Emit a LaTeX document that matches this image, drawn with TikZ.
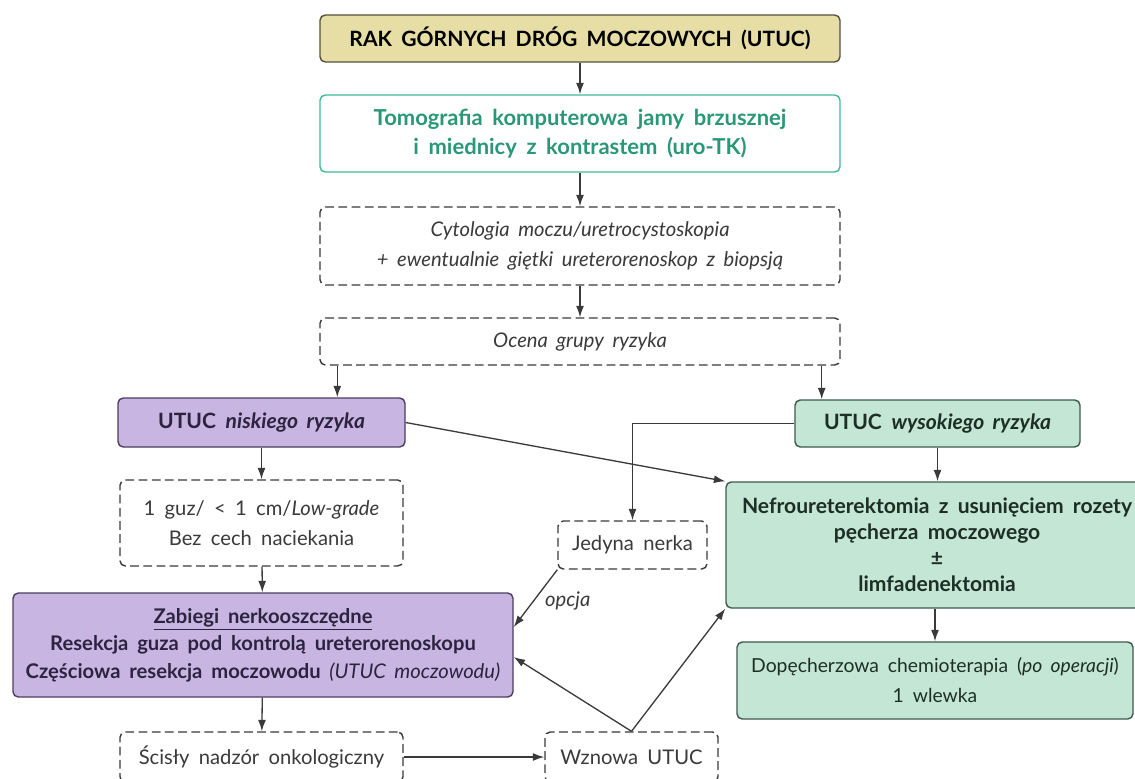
\documentclass[tikz,border=0pt]{standalone}
\usepackage{fontspec}
\setmainfont{Lato}[WordSpace=1.8]
\usetikzlibrary{arrows.meta}

\definecolor{khaki}{HTML}{E6DEA4}
\definecolor{khakiline}{HTML}{55503E}
\definecolor{teal}{HTML}{3DBB9A}
\definecolor{tealtext}{HTML}{2A9878}
\definecolor{lilac}{HTML}{C9B5E2}
\definecolor{lilacline}{HTML}{4B3E5E}
\definecolor{lilactext}{HTML}{2C2340}
\definecolor{mint}{HTML}{C3E7D4}
\definecolor{mintline}{HTML}{3E5A4D}
\definecolor{minttext}{HTML}{1E2E27}
\definecolor{linegray}{HTML}{3A3A3A}

\begin{document}
\begin{tikzpicture}[x=0.02cm, y=-0.02cm,
    boxsize/.style 2 args={minimum width=#1*0.02cm, minimum height=#2*0.02cm},
    box/.style={rounded corners=3pt, line width=0.8pt, align=center, inner sep=0pt,
        font=\fontsize{11.5}{16}\selectfont},
    topbox/.style={box, draw=khakiline, fill=khaki, font=\fontsize{12}{16}\selectfont\bfseries},
    tkbox/.style={box, draw=teal, fill=white, text=tealtext, font=\fontsize{12.5}{16.5}\selectfont\bfseries},
    dashbox/.style={box, draw=linegray, fill=white, text=linegray, dash pattern=on 5pt off 2.5pt},
    lowbox/.style={box, draw=lilacline, fill=lilac, text=lilactext},
    highbox/.style={box, draw=mintline, fill=mint, text=minttext},
    arr/.style={-{Latex[length=6.5pt,width=4.5pt]}, line width=0.75pt, draw=linegray}]

    \useasboundingbox (0,0) rectangle (1135,778);

    % main column
    \node[topbox, boxsize={520}{47}] (rak) at (580,38.5)
        {RAK GÓRNYCH DRÓG MOCZOWYCH (UTUC)};
    \node[tkbox, boxsize={520}{77}] (tk) at (580,133.5)
        {Tomografia komputerowa jamy brzusznej\\ i miednicy z kontrastem (uro-TK)};
    \node[dashbox, boxsize={520}{78}, font=\fontsize{11.5}{17}\selectfont\itshape] (cyto) at (580,246)
        {Cytologia moczu/uretrocystoskopia\\ + ewentualnie giętki ureterorenoskop z biopsją};
    \node[dashbox, boxsize={520}{47}, font=\fontsize{11.5}{16}\selectfont\itshape] (ocena) at (580,341.5)
        {Ocena grupy ryzyka};

    % low risk branch
    \node[lowbox, boxsize={287}{49}, font=\fontsize{12}{16}\selectfont] (niskie) at (261.5,422.5)
        {\textbf{UTUC} \textbf{\textit{niskiego ryzyka}}};
    \node[dashbox, boxsize={283}{86}, font=\fontsize{11.5}{17}\selectfont] (guz) at (261.5,523)
        {1 guz/ < 1 cm/\textit{Low-grade}\\ Bez cech naciekania};
    \node[lowbox, boxsize={500}{104}, font=\fontsize{11.5}{15.6}\selectfont\bfseries] (zabiegi) at (263,645)
        {\underline{Zabiegi nerkooszczędne}\\ Resekcja guza pod kontrolą ureterorenoskopu\\
         Częściowa resekcja moczowodu \textmd{\textit{(UTUC moczowodu)}}};
    \node[dashbox, boxsize={283}{50}] (scisly) at (261.5,757)
        {Ścisły nadzór onkologiczny};

    % high risk branch
    \node[highbox, boxsize={285}{47}, font=\fontsize{12}{16}\selectfont] (wysokie) at (937.5,423.5)
        {\textbf{UTUC} \textbf{\textit{wysokiego ryzyka}}};
    \node[highbox, boxsize={422}{126}, font=\fontsize{12}{14.8}\selectfont\bfseries] (nefro) at (937,545)
        {Nefroureterektomia z usunięciem rozety\\ pęcherza moczowego\\ ±\\ limfadenektomia};
    \node[highbox, boxsize={396}{77}, font=\fontsize{11}{17}\selectfont] (dope) at (935,680.5)
        {Dopęcherzowa chemioterapia (\textit{po operacji})\\ 1 wlewka};

    % middle
    \node[dashbox, boxsize={149}{48}] (jedyna) at (632.5,545) {Jedyna nerka};
    \node[dashbox, boxsize={173}{50}] (wznowa) at (631.5,757) {Wznowa UTUC};

    % arrows
    \draw[arr] (rak) -- (tk);
    \draw[arr] (tk) -- (cyto);
    \draw[arr] (cyto) -- (ocena);
    \draw[arr] ([xshift=0.36cm]ocena.south west) -- ([xshift=0.36cm]ocena.south west |- niskie.north);
    \draw[arr] ([xshift=-0.38cm]ocena.south east) -- ([xshift=-0.38cm]ocena.south east |- wysokie.north);
    \draw[arr] (niskie) -- (guz);
    \draw[arr] (guz) -- (zabiegi);
    \draw[arr] (zabiegi) -- (scisly);
    \draw[arr] (scisly) -- (wznowa);
    \draw[arr] (niskie.east) -- (nefro.north west);
    \draw[arr] (wysokie.west) -| (jedyna.north);
    \draw[arr] (wysokie) -- (wysokie |- nefro.north);
    \draw[arr] (nefro.south -| dope.north) -- (dope.north);
    \draw[arr] (jedyna.south west) -- node[right=3pt, pos=0.55, font=\fontsize{11.5}{12}\selectfont\itshape, text=linegray] (opcja) {opcja}
        ([yshift=0.36cm]zabiegi.east);
    \draw[arr] (wznowa.north) -- ([yshift=-0.24cm]zabiegi.east);
    \draw[arr] (wznowa.north) -- (nefro.south west);
\end{tikzpicture}
\end{document}
